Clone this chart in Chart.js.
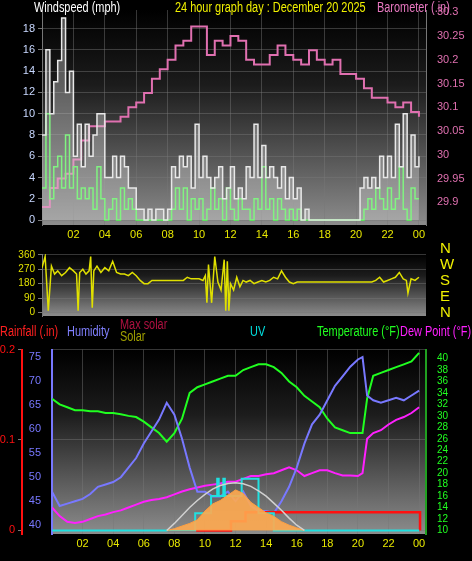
<!DOCTYPE html>
<html><head><meta charset="utf-8">
<script src="https://cdn.jsdelivr.net/npm/chart.js@4"></script>
<style>
body{margin:0;background:#000;width:472px;height:561px;overflow:hidden;font-family:"Liberation Sans",Arial,sans-serif}
canvas{position:absolute;left:0}
.t{position:absolute;white-space:nowrap;font-size:14px;line-height:14px;transform:scaleX(0.78);transform-origin:0 0}
.c{position:absolute;left:440px;color:#f0f000;font-family:"Liberation Sans",sans-serif;font-size:15px;line-height:16px}
</style></head><body>
<canvas id="c1" width="472" height="245" style="top:0"></canvas>
<canvas id="c2" width="472" height="80" style="top:245px"></canvas>
<canvas id="c3" width="472" height="221" style="top:340px"></canvas>
<div class="t" style="left:34px;top:0;color:#fff">Windspeed (mph)</div>
<div class="t" style="left:175px;top:0;color:#f0f000">24 hour graph day : December 20 2025</div>
<div class="t" style="left:377px;top:0;color:#e878c0">Barometer (.in)</div>
<div class="c" style="top:240px">N</div>
<div class="c" style="top:256px">W</div>
<div class="c" style="top:272px">S</div>
<div class="c" style="top:288px">E</div>
<div class="c" style="top:304px">N</div>
<div class="t" style="left:0;top:324px;color:#ff2020">Rainfall (.in)</div>
<div class="t" style="left:67px;top:324px;color:#8080ff">Humidity</div>
<div class="t" style="left:120px;top:317px;color:#b01040">Max solar</div>
<div class="t" style="left:120px;top:329px;color:#a0a000">Solar</div>
<div class="t" style="left:250px;top:324px;color:#00e0e0">UV</div>
<div class="t" style="left:317px;top:324px;color:#20ff20">Temperature (°F)</div>
<div class="t" style="left:400px;top:324px;color:#ff20ff">Dew Point (°F)</div>
<script>
// ---------- data ----------
const hourTicks=[2,4,6,8,10,12,14,16,18,20,22,24];
const windGust=[8,16,10,13,15,19,12,14,6,9,5,9,6,8,10,10,4,4,6,4,6,5,3,3,1,1,0,1,0,1,1,0,1,5,4,6,5,6,3,9,4,6,4,3,4,5,2,3,5,2,3,2,5,4,9,4,7,4,5,4,3,5,2,4,2,3,0,1,0,0,0,0,0,0,0,0,0,0,0,0,0,3,4,3,4,3,6,4,6,4,9,5,10,4,8,5,6];
const windAvg=[3,10,2,5,6,3,8,3,5,2,3,2,3,1,5,2,0,1,2,0,3,1,2,1,0,0,0,0,0,0,0,0,0,1,3,1,3,0,2,1,2,0,1,3,1,2,0,3,1,0,2,1,1,0,2,1,5,1,2,0,2,1,0,1,0,1,0,0,0,0,0,0,0,0,0,0,0,0,0,0,0,0,1,2,1,3,2,1,3,1,2,5,1,0,3,2,2];
const baro=[29.89,29.93,29.95,29.96,29.99,30.03,30.06,30.06,30.07,30.07,30.08,30.10,30.11,30.13,30.16,30.18,30.20,30.23,30.24,30.27,30.27,30.21,30.24,30.23,30.25,30.24,30.20,30.19,30.19,30.21,30.23,30.21,30.20,30.19,30.22,30.20,30.19,30.20,30.17,30.17,30.16,30.14,30.12,30.12,30.11,30.10,30.11,30.09,30.08];
const dirHours=[0,0.2,0.4,0.6,0.8,1,1.25,1.5,1.75,2,2.2,2.3,2.4,2.6,2.8,3,3.1,3.2,3.3,3.5,3.75,4,4.25,4.5,4.75,5,5.25,5.5,5.75,6,6.25,6.5,6.75,7,8,9,9.25,9.5,10,10.25,10.4,10.5,10.6,10.8,11,11.2,11.4,11.6,11.7,11.8,11.9,12,12.2,12.4,12.6,12.8,13,13.25,13.5,13.75,14,14.25,14.5,14.75,15,15.25,15.5,15.75,16,16.25,16.5,17,18,19,20,21,21.25,21.5,21.75,22,22.25,22.5,22.75,23,23.2,23.3,23.5,23.75,24];
const dirVals=[280,350,10,290,240,260,230,250,280,260,240,10,250,270,240,260,350,30,260,290,250,280,260,320,250,240,240,230,250,230,200,180,180,200,200,200,220,210,210,200,230,60,300,60,350,190,140,330,10,320,10,180,140,220,160,200,190,200,180,190,200,190,200,220,210,260,220,190,180,190,190,190,190,190,190,190,200,220,190,200,210,220,250,210,200,120,210,200,220];
const thHours=[0,0.5,1,1.5,2,2.5,3,3.5,4,4.5,5,5.5,6,6.5,7,7.5,8,8.5,9,9.5,10,10.5,11,11.5,12,12.5,13,13.5,14,14.5,15,15.5,16,16.5,17,17.5,18,18.5,19,19.5,20,20.3,20.6,21,21.5,22,22.5,23,23.5,24];
const temperature=[33,32,31.5,31,31,30.8,30.8,30.5,30.5,30.3,30,29.8,29,28,27,25.5,27,29.5,34,35,35.5,36,36.5,37,37,38,38.5,39,39,38.5,37.5,36,35,33.5,32.5,31.5,29.5,28,27.5,27,27,27,33,37,37.5,38,38.5,39,39.5,41];
const dewPoint=[14,12.5,11.5,11.3,11.5,12,12.5,12.8,13.2,13.5,14,14.5,15,15.3,15.5,15.8,16.3,16.8,17.2,17.5,17.8,18,18.2,18.5,18.5,19,19.5,19.5,19.8,20,20.5,21,20.5,19.5,20,20.5,20.5,20,19.6,19.6,19.5,20,26,27,27.5,28.5,29.3,29.8,30.5,31.5];
const humidity=[47,44,44.5,45,45.5,46.5,48,48.5,49,50,52,54,57,59.5,62,65.5,63,58,52,47,47,46,46,47,45,47,44,43,43,42.5,45,48,52,57,61,63,66,69,71,73,74.5,75,67,66,65.5,66,66.5,66,67,68];
const rainHours=[7.55,11.7,12.65,24.05,24.06];
const rainVals=[0,0.01,0.02,0.02,0];
const solarHours=[7.5,8,8.5,9,9.5,10,10.5,11,11.5,12,12.5,13,13.5,14,14.5,15,15.5,16,16.5];
const solar=[0,10,25,40,60,110,150,170,200,230,210,160,130,100,80,50,30,15,0];
const maxSolar=[0,40,85,130,170,205,235,255,267,270,265,250,225,195,155,115,70,30,0];
const uvHours=[0,9.36,10.4,10.8,10.9,11.2,11.3,12.3,12.4,13.5,14.5,24];
const uvVals=[0,1,2,3,2,3,2,2,3,1,0,0];

// ---------- helpers ----------
const F={family:"Liberation Sans",size:11};
const pts=(xs,ys)=>ys.map((y,i)=>({x:xs[i],y}));
const stepX=(n,st)=>Array.from({length:n},(_,i)=>i*st);
const bg={id:'bg',beforeDraw(c){const a=c.chartArea,g=c.ctx.createLinearGradient(0,a.top,0,a.bottom);
 g.addColorStop(0,'#000');g.addColorStop(0.35,'#1c1c1c');g.addColorStop(1,'#8c8c8c');
 c.ctx.fillStyle=g;c.ctx.fillRect(a.left,a.top,a.right-a.left,a.bottom-a.top);}};
const setTicks=arr=>s=>{s.ticks=arr.map(v=>({value:v}));};
const fixW=w=>s=>{s.width=w;};
const grid={color:'rgba(120,120,120,0.45)',tickColor:'#777',tickLength:4};
function xScale(show,height){return {type:'linear',min:0,max:24.45,display:show,
 afterBuildTicks:setTicks(hourTicks),afterFit:s=>{s.height=height;},
 ticks:{color:'#e8e800',font:F,maxRotation:0,autoSkip:false,callback:v=>String(v%24).padStart(2,'0')},
 grid:{...grid,drawTicks:false},border:{display:false}};}
const base={responsive:false,animation:false,plugins:{legend:{display:false},tooltip:{enabled:false}},
 elements:{point:{radius:0}}};

// ---------- chart 1 ----------
new Chart(document.getElementById('c1'),{type:'line',plugins:[bg],
 data:{datasets:[
  {data:pts(stepX(97,0.25),windGust),borderColor:'#e8e8e8',backgroundColor:'rgba(220,220,220,0.35)',fill:'origin',stepped:true,borderWidth:1.5,yAxisID:'y'},
  {data:pts(stepX(97,0.25),windAvg),borderColor:'#50ff50',stepped:true,borderWidth:1.5,yAxisID:'y'},
  {data:pts(stepX(49,0.5),baro),borderColor:'#e070b0',stepped:true,borderWidth:2,yAxisID:'y1'}]},
 options:{...base,layout:{padding:{top:10,left:0,right:0,bottom:0}},
  scales:{x:xScale(true,20),
   y:{position:'left',min:-0.47,max:19.75,afterBuildTicks:setTicks([0,2,4,6,8,10,12,14,16,18]),afterFit:fixW(42),
    ticks:{color:'#c8d8ff',font:F,autoSkip:false},grid:grid,border:{color:'#777'}},
   y1:{position:'right',min:29.852,max:30.305,afterBuildTicks:setTicks([29.9,29.95,30,30.05,30.1,30.15,30.2,30.25,30.3]),afterFit:fixW(46),
    ticks:{color:'#e070b0',font:F,autoSkip:false,callback:v=>String(Number(v.toFixed(2)))},grid:{display:false},border:{color:'#777'}}}}});

// ---------- chart 2 ----------
new Chart(document.getElementById('c2'),{type:'line',plugins:[bg],
 data:{datasets:[{data:pts(dirHours,dirVals),borderColor:'#e0e000',borderWidth:1.5,yAxisID:'y'}]},
 options:{...base,layout:{padding:{top:3,bottom:8}},
  scales:{x:xScale(false,0),
   y:{position:'left',min:-22.5,max:365.6,afterBuildTicks:setTicks([0,90,180,270,360]),afterFit:fixW(42),
    ticks:{color:'#e0e000',font:{...F,size:10},autoSkip:false},grid:grid,border:{color:'#777'}},
   y1:{position:'right',min:-22.5,max:365.6,afterFit:fixW(46),ticks:{display:false},
    grid:{display:false},border:{display:false}}}}});

// ---------- chart 3 ----------
new Chart(document.getElementById('c3'),{type:'line',plugins:[bg],
 data:{datasets:[
  {data:pts(solarHours,maxSolar),borderColor:'#d0d0d0',borderWidth:1.5,yAxisID:'sol'},
  {data:pts(solarHours,solar),borderColor:'#ffa040',backgroundColor:'rgba(255,170,80,0.9)',fill:'origin',borderWidth:1,yAxisID:'sol'},
  {data:pts(uvHours,uvVals),borderColor:'#20e0e0',stepped:true,borderWidth:2,yAxisID:'uv'},
  {data:pts(rainHours,rainVals),borderColor:'#ff1010',stepped:true,borderWidth:2.5,yAxisID:'rain'},
  {data:pts(thHours,humidity),borderColor:'#7878ff',borderWidth:2,yAxisID:'hum'},
  {data:pts(thHours,dewPoint),borderColor:'#ff20ff',borderWidth:2,yAxisID:'temp'},
  {data:pts(thHours,temperature),borderColor:'#20ff20',borderWidth:2,yAxisID:'temp'}]},
 options:{...base,layout:{padding:{top:3}},
  scales:{x:xScale(true,27),
   hum:{position:'left',min:38.19,max:76.55,afterBuildTicks:setTicks([40,45,50,55,60,65,70,75]),afterFit:fixW(30),
    ticks:{color:'#7878ff',font:F,autoSkip:false},grid:{display:false},border:{color:'#7878ff',width:2}},
   rain:{position:'left',min:-0.004,max:0.2,afterBuildTicks:setTicks([0,0.1,0.2]),afterFit:fixW(22),
    ticks:{color:'#ff1010',font:F,autoSkip:false,callback:v=>String(Number(v.toFixed(1)))},grid:grid,border:{color:'#ff1010',width:2}},
   temp:{position:'right',min:9.38,max:41.57,afterBuildTicks:setTicks([10,12,14,16,18,20,22,24,26,28,30,32,34,36,38,40]),afterFit:fixW(46),
    ticks:{color:'#20ff20',font:{...F,size:10},autoSkip:false},grid:{display:false},border:{color:'#20a020',width:2}},
   uv:{display:false,min:-0.21,max:10.52},
   sol:{display:false,min:-20,max:1026}}}});
</script></body></html>
